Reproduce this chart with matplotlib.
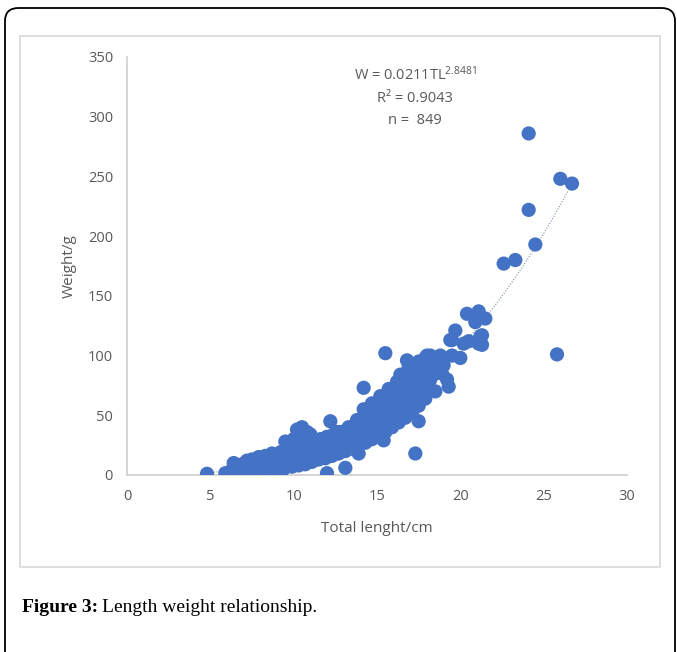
import matplotlib
matplotlib.use('Agg')
import matplotlib.pyplot as plt
from matplotlib.patches import FancyBboxPatch, Rectangle
import numpy as np

# ---------- DATA ----------
length_cm = [
    4.8, 5.9, 6.2, 6.4, 6.5, 6.6, 6.8, 6.9, 7.0, 7.1, 7.3, 7.4, 7.6, 7.7, 7.8,
    8.0, 8.1, 8.2, 8.4, 8.5, 8.6, 8.8, 8.9, 9.0, 9.1, 9.3, 9.4, 9.5, 9.6, 9.8, 9.9,
    10.0, 10.1, 10.2, 10.3, 10.4, 10.5, 10.6, 10.7, 10.8, 10.9, 11.0, 11.1, 11.2,
    11.3, 11.4, 11.5, 11.6, 11.7, 11.8, 11.9, 12.0, 12.1, 12.2, 12.3, 12.4, 12.5,
    12.6, 12.7, 12.8, 12.9, 13.0, 13.1, 13.2, 13.3, 13.4, 13.5, 13.6, 13.7, 13.8,
    13.9, 14.0, 14.1, 14.2, 14.3, 14.4, 14.5, 14.6, 14.7, 14.8, 14.9, 15.0, 15.1,
    15.2, 15.3, 15.4, 15.5, 15.6, 15.7, 15.8, 15.9, 16.0, 16.1, 16.2, 16.3, 16.4,
    16.5, 16.6, 16.7, 16.8, 16.9, 17.0, 17.1, 17.2, 17.3, 17.4, 17.5, 17.6, 17.7,
    17.8, 17.9, 18.0, 18.2, 18.4, 18.5, 18.7, 18.9, 19.0, 19.2,
    # small cluster around 10 cm
    9.5, 10.0, 10.2, 10.5, 10.8, 11.0, 10.3, 10.7,
    # dense centre fill
    13.0, 13.5, 14.0, 14.5, 15.0, 15.5, 16.0, 16.5, 17.0, 17.5, 18.0, 18.5,
    14.2, 14.7, 15.2, 15.7, 16.2, 16.7, 17.2, 17.7, 12.5, 12.0, 11.5, 11.0,
    13.3, 13.8, 14.3, 14.8, 15.3, 15.8, 16.3, 16.8, 17.3, 17.8, 18.3,
    13.6, 14.1, 14.6, 15.1, 15.6, 16.1, 16.6, 17.1, 17.6, 18.1,
    7.2, 7.5, 7.9, 8.3, 8.7, 9.2, 9.7, 10.4, 11.3, 11.9, 12.6,
    6.9, 7.4, 8.0, 8.6, 9.1, 9.6, 10.1, 10.6, 11.1, 11.6, 12.2, 12.8,
    # upper edge near 17-19.5 cm
    17.5, 17.9, 18.0, 18.3, 18.8, 19.0, 19.5, 16.9, 16.4,
    # outliers and large fish
    12.0, 13.1, 13.9, 12.2, 14.2, 15.5, 17.3, 17.5, 19.3, 15.4, 16.8, 18.2,
    19.7, 20.4, 19.5, 20.0, 20.5, 21.3, 21.3, 19.4, 20.2, 21.1, 21.2, 20.9,
    21.1, 21.5, 22.6, 23.3, 24.1, 24.1, 24.5, 25.8, 26.0, 26.7,
]
weight_g = [
    1, 1.5, 3, 10, 2, 7, 4, 9, 2, 6, 3, 8, 5, 10, 3,
    7, 12, 4, 9, 14, 6, 11, 4, 15, 8, 12, 5, 17, 10, 14, 7,
    20, 11, 16, 8, 23, 13, 18, 9, 25, 15, 20, 11, 27,
    17, 22, 13, 30, 19, 24, 14, 32, 21, 26, 16, 34, 23,
    29, 18, 36, 25, 31, 20, 38, 27, 33, 22, 41, 30, 36,
    25, 45, 33, 39, 27, 50, 36, 43, 30, 56, 40, 48, 33,
    60, 44, 52, 36, 65, 48, 57, 40, 68, 52, 62, 44, 74,
    57, 67, 48, 82, 62, 73, 52, 88, 68, 79, 58, 90, 74,
    84, 64, 93, 80, 90, 70, 95, 85, 98, 80,
    28, 30, 38, 40, 36, 34, 33, 30,
    28, 32, 36, 42, 45, 50, 55, 62, 65, 72, 78, 85,
    55, 60, 66, 72, 78, 84, 82, 88, 27, 24, 21, 18,
    40, 46, 52, 58, 64, 70, 76, 86, 92, 94, 88,
    26, 30, 34, 40, 44, 48, 56, 60, 66, 72,
    12, 13, 15, 16, 18, 19, 22, 26, 28, 30, 36,
    5, 5, 7, 8, 10, 12, 14, 15, 17, 19, 22, 24,
    95, 98, 100, 97, 100, 92, 100, 90, 84,
    1.5, 6, 18, 45, 73, 102, 18, 45, 74, 29, 96, 100,
    121, 135, 113, 98, 112, 117, 109, 113, 110, 137, 116, 128,
    110, 131, 177, 180, 286, 222, 193, 101, 248, 244,
]

# fitted power curve shown on the chart
coef_a = 0.0211
coef_b = 2.8481
fit_range = [4.7, 26.6]

xticks = [0, 5, 10, 15, 20, 25, 30]
yticks = [0, 50, 100, 150, 200, 250, 300, 350]

blue = '#4472C4'
grey = '#595959'

plt.rcParams['font.family'] = ['Open Sans', 'DejaVu Sans']
plt.rcParams['mathtext.fontset'] = 'custom'
plt.rcParams['mathtext.rm'] = 'Open Sans'

fig = plt.figure(figsize=(6.77, 6.52), dpi=100)

# outer frame (rounded, open at the bottom)
fig.patches.append(FancyBboxPatch((5/677, -0.05), 670/677, 0.05 + 644/652,
                                  boxstyle='round,pad=0,rounding_size=0.02',
                                  transform=fig.transFigure, fill=False,
                                  edgecolor='black', linewidth=1.3))
# chart area box
fig.patches.append(Rectangle((20/677, 1 - 567/652), 640/677, 531/652,
                             transform=fig.transFigure, fill=False,
                             edgecolor='#D9D9D9', linewidth=1.2))

ax = fig.add_axes([127/677, 1 - 475/652, 500/677, 418/652])

ax.scatter(length_cm, weight_g, s=105, color=blue, edgecolors='none', zorder=3)

xx = np.linspace(fit_range[0], fit_range[1], 200)
ax.plot(xx, coef_a * xx ** coef_b, linestyle=(0, (1, 1.5)), color='#7F8FB0',
        linewidth=0.8, zorder=2)

ax.set_xlim(0, 30)
ax.set_ylim(0, 350)
ax.set_xticks(xticks)
ax.set_yticks(yticks)
ax.tick_params(length=0, labelsize=10.5, colors=grey, pad=10)
for side in ['top', 'right']:
    ax.spines[side].set_visible(False)
for side in ['left', 'bottom']:
    ax.spines[side].set_color('#D0D0D0')
    ax.spines[side].set_linewidth(1.2)

ax.set_xlabel('Total lenght/cm', fontsize=11, color=grey, labelpad=12)
ax.set_ylabel('Weight/g', fontsize=11, color=grey, labelpad=8)

fig.text(415/677, 1 - 75/652, r'W = 0.0211TL$\mathregular{^{2.8481}}$',
         ha='center', va='center', fontsize=10.5, color=grey)
fig.text(415/677, 1 - 98/652, 'R² = 0.9043', ha='center', va='center',
         fontsize=10.5, color=grey)
fig.text(415/677, 1 - 121/652, 'n =  849', ha='center', va='center',
         fontsize=10.5, color=grey)

# caption
cap = fig.text(22/677, 1 - 608/652, 'Figure 3:', ha='left', va='center',
               fontsize=14, fontweight='bold', family='Liberation Serif')
fig.canvas.draw()
bb = cap.get_window_extent().transformed(fig.transFigure.inverted())
fig.text(bb.x1 + 0.006, 1 - 608/652, 'Length weight relationship.', ha='left',
         va='center', fontsize=14, family='Liberation Serif')

plt.savefig('out.png', dpi=100)
